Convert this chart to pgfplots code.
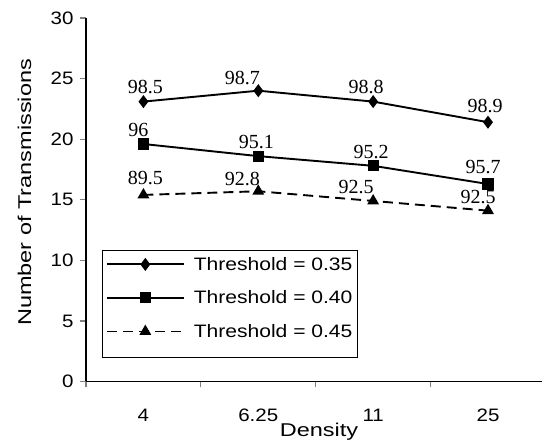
\documentclass[border=0pt]{standalone}
\usepackage{pgfplots}
\pgfplotsset{compat=1.18}
\usepackage{pgfplotstable}
\usepackage{fontspec}
\setmainfont{Liberation Sans}[FakeStretch=1.14]
\newfontfamily\legf{Liberation Sans}[FakeStretch=1.17]
\newfontfamily\titlef{Liberation Sans}[FakeStretch=1.27]
\newfontfamily\timesf{Liberation Serif}

\pgfplotstableread{
x y lab dx dy
0 23.1 98.5 2 15
1 24.0 98.7 -16 12.5
2 23.1 98.8 -7 14.5
3 21.4 98.9 -3 16
}\sone
\pgfplotstableread{
x y lab dx dy
0 19.6 96 -5 14
1 18.6 95.1 -2 14
2 17.8 95.2 -2 13.5
3 16.3 95.7 -5 17
}\stwo
\pgfplotstableread{
x y lab dx dy
0 15.4 89.5 2 16.5
1 15.7 92.8 -16 12.5
2 14.9 92.5 -17 14
3 14.1 92.5 -10 13.5
}\sthree

\begin{document}
\begin{tikzpicture}
\begin{axis}[
  scale only axis,
  width=456pt, height=363.5pt,
  xmin=-0.5, xmax=3.47,
  ymin=0, ymax=30,
  axis x line*=bottom, axis y line*=left,
  axis line style={line width=1.2pt, -},
  ytick={0,5,...,30},
  xtick={0,1,2,3},
  xticklabels={4,6.25,11,25},
  minor xtick={-0.5,0.5,1.5,2.5},
  major x tick style={draw=none},
  minor x tick style={line width=1.2pt},
  y tick style={line width=1.2pt},
  tick align=outside,
  major tick length=6pt,
  minor tick length=6pt,
  /pgf/number format/assume math mode=true,
  tick label style={font=\fontsize{18}{20}\selectfont},
  yticklabel style={xshift=-3pt},
  xticklabel style={yshift=-18pt},
  xlabel={Density},
  ylabel={Number of Transmissions},
  label style={font=\titlef\fontsize{18.5}{20}\selectfont},
  xlabel style={at={(axis description cs:0.511,0)}, anchor=north, yshift=-38pt},
  ylabel style={at={(axis description cs:-0.112,0.52)}, anchor=south},
  clip=false,
  legend cell align=left,
  legend style={at={(0.0366,0.362)}, anchor=north west,
     draw=none, name=leg,
     font=\legf\fontsize{18}{20}\selectfont,
     inner xsep=3pt, inner ysep=5pt, row sep=15pt,
     /tikz/every odd column/.append style={column sep=7pt}},
  legend image code/.code={
     \draw[#1, mark repeat=2, mark phase=2] plot coordinates {(0pt,0pt) (38.5pt,0pt) (77pt,0pt)};},
  labelled/.style={
    point meta=explicit symbolic,
    nodes near coords,
    visualization depends on={\thisrow{dx} \as \dx},
    visualization depends on={\thisrow{dy} \as \dy},
    every node near coord/.style={anchor=center, inner sep=0pt,
       font=\timesf\fontsize{20}{22}\selectfont, xshift=\dx pt, yshift=\dy pt},
  },
]
\addplot[black, line width=1.9pt, mark=diamond*, mark size=5pt, mark options={solid}, labelled]
   table[x=x, y=y, meta=lab] {\sone};
\addlegendentry{Threshold = 0.35}
\addplot[black, line width=1.9pt, mark=square*, mark size=4.6pt, mark options={solid}, labelled]
   table[x=x, y=y, meta=lab] {\stwo};
\addlegendentry{Threshold = 0.40}
\addplot[black, line width=1.9pt, dash pattern=on 10pt off 6pt, mark=triangle*, mark size=5pt, mark options={solid}, labelled]
   table[x=x, y=y, meta=lab] {\sthree};
\addlegendentry{Threshold = 0.45}
\end{axis}
\draw[line width=0.8pt] (leg.north west) rectangle ([yshift=-11pt]leg.south east);
\pgfresetboundingbox
\path[use as bounding box] (current axis.south west) ++(-86pt,-65.5pt) rectangle ++(542pt,447pt);
\end{tikzpicture}
\end{document}
